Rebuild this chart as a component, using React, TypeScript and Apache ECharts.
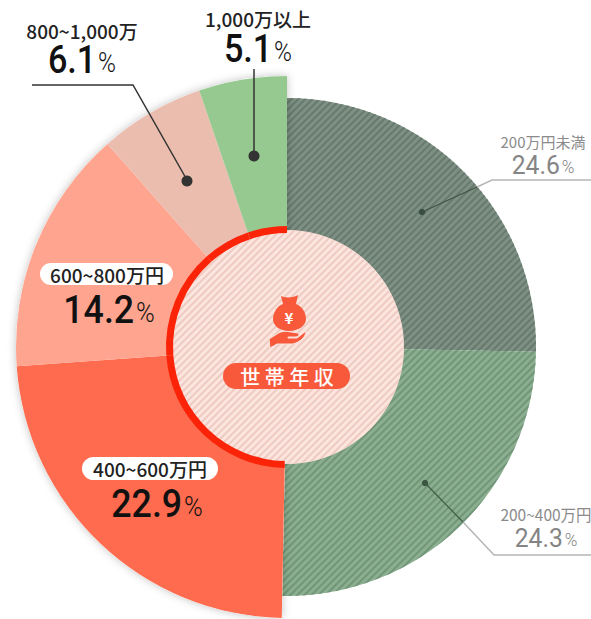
import React, { useEffect, useRef } from "react";
import * as echarts from "echarts";

const categories = ["200万円未満", "200~400万円", "400~600万円", "600~800万円", "800~1,000万", "1,000万以上"];
const values = [24.6, 24.3, 22.9, 14.2, 6.1, 5.1];
const colors = ["#7d9083", "#8aae8f", "#ff6b4e", "#ffa58f", "#ebbdaf", "#96c98f"];
const stripeColors = ["#67796d", "#719577", "", "", "", ""];
const outerRing = [false, false, true, true, true, true];
const centerTitle = "世 帯 年 収";

const CX = 287;
const CY = 347;
const NUM_FONT = "Roboto, 'Noto Sans CJK JP', sans-serif";
const JP_FONT = "'Noto Sans CJK JP', sans-serif";

// label placement: [label centre x, label centre y, value centre x, value centre y]
const labelPlaces = [
  [543, 141, 543, 165],
  [546, 514, 546, 538],
  [150, 468, 157, 504],
  [107, 274, 109, 310],
  [82, 30, 82, 60],
  [258, 18, 258, 49],
];
const pills: Record<number, number[]> = { 2: [82, 457, 136, 23], 3: [40, 263, 133, 22] };
const labelSize = [15, 15.5, 19, 19, 19, 19];
const valueSize = [26, 26, 38, 38, 38, 38];
const unitSize = [18, 18, 27, 27, 27, 27];
const valueScale = [0.95, 0.95, 0.94, 0.94, 0.9, 0.9];

const BAG =
  "M281 296 C284 298 294 298 298 295 L296 304 C303 307 306 313 306 319 C306 326 298 331 289 331 C280 331 273 326 273 319 C273 313 277 306 283 304 Z";
const HAND =
  "M269 339 L277 334 C281 331 286 331 291 332 L298 333 C300 335 298 337 295 337 L288 337 L288 338 L297 338 L306 331 C306 337 300 342 293 344 L277 344 L270 348 Z";

echarts.graphic.registerShape("moneyBag", echarts.graphic.extendPath(BAG, {}));
echarts.graphic.registerShape("moneyHand", echarts.graphic.extendPath(HAND, {}));

const stripe = (color: string) => ({
  symbol: "rect",
  color,
  dashArrayX: [1, 0],
  dashArrayY: [2, 3],
  rotation: -Math.PI / 4,
  symbolSize: 1,
});

const baseSeries = {
  type: "pie",
  center: [CX, CY],
  startAngle: 90,
  clockwise: true,
  silent: true,
  label: { show: false },
  labelLine: { show: false },
  avoidLabelOverlap: false,
};

const invisible = { color: "rgba(0,0,0,0)", borderWidth: 0 };

export default function App() {
  const ref = useRef<HTMLDivElement>(null);

  useEffect(() => {
    const chart = echarts.init(ref.current!, undefined, { renderer: "svg" });
    const ringData = (pick: boolean, style: (i: number) => any) =>
      values.map((value, i) => ({
        name: categories[i],
        value,
        itemStyle: outerRing[i] === pick ? style(i) : invisible,
      }));

    const texts: any[] = [];
    categories.forEach((name, i) => {
      const p = pills[i];
      if (p) {
        texts.push({
          type: "rect",
          z: 20,
          shape: { x: p[0], y: p[1], width: p[2], height: p[3], r: p[3] / 2 },
          style: { fill: "#fff" },
        });
      }
      const [lx, ly, vx, vy] = labelPlaces[i];
      const isGrey = i < 2;
      const ink = isGrey ? "#858585" : "#111";
      texts.push({
        type: "text",
        z: 21,
        x: lx,
        y: ly,
        style: {
          text: name,
          fill: isGrey ? "#8b8b8b" : "#222",
          font: `${isGrey ? 400 : 500} ${labelSize[i]}px ${JP_FONT}`,
          align: "center",
          verticalAlign: "middle",
        },
      });
      texts.push({
        type: "text",
        z: 21,
        x: vx,
        y: vy,
        scaleX: valueScale[i],
        style: {
          text: `{v|${values[i].toFixed(1)}}{u|%}`,
          align: "center",
          verticalAlign: "middle",
          rich: {
            v: {
              fontFamily: NUM_FONT,
              fontSize: valueSize[i],
              fontWeight: isGrey ? 400 : 500,
              fill: ink,
            },
            u: {
              fontFamily: NUM_FONT,
              fontSize: unitSize[i],
              fontWeight: 300,
              fill: ink,
              padding: [isGrey ? 3 : 5, 0, 0, 2],
            },
          },
        },
      });
    });

    const dark = "#333";
    const leaders: any[] = [
      { type: "polyline", shape: { points: [[32, 85], [133, 85], [187, 180]] }, style: { stroke: dark, lineWidth: 1.5, fill: "none" } },
      { type: "line", shape: { x1: 254, y1: 69, x2: 254, y2: 156 }, style: { stroke: dark, lineWidth: 1.5 } },
      { type: "circle", shape: { cx: 187, cy: 181, r: 5.5 }, style: { fill: dark } },
      { type: "circle", shape: { cx: 254, cy: 156, r: 5.5 }, style: { fill: dark } },
      { type: "polyline", shape: { points: [[477, 187], [492, 180], [591, 180]] }, style: { stroke: "#b5b5b5", lineWidth: 1.5, fill: "none" } },
      { type: "line", shape: { x1: 422, y1: 212, x2: 477, y2: 187 }, style: { stroke: "#3f5347", lineWidth: 1.2 } },
      { type: "circle", shape: { cx: 422, cy: 212, r: 3.2 }, style: { fill: "#3a4d41" } },
      { type: "polyline", shape: { points: [[463, 522], [494, 555], [591, 555]] }, style: { stroke: "#b5b5b5", lineWidth: 1.5, fill: "none" } },
      { type: "line", shape: { x1: 425, y1: 483, x2: 463, y2: 522 }, style: { stroke: "#3f5c47", lineWidth: 1.2 } },
      { type: "circle", shape: { cx: 425, cy: 483, r: 3.2 }, style: { fill: "#3a5642" } },
    ].map((g) => ({ ...g, z: 15 }));

    const icon: any[] = [
      { type: "moneyBag", x: 0, y: 0, z: 16, style: { fill: "#f7593a" } },
      { type: "moneyHand", x: 0, y: 0, z: 16, style: { fill: "#f7593a", stroke: "#fbe3dc", lineWidth: 1 } },
      {
        type: "text", z: 17, x: 289, y: 317,
        style: { text: "¥", fill: "#fff", font: `700 15px ${JP_FONT}`, align: "center", verticalAlign: "middle" },
      },
      { type: "rect", z: 16, shape: { x: 223, y: 363, width: 127, height: 26, r: 13 }, style: { fill: "#f7593a" } },
      {
        type: "text", z: 17, x: 287, y: 376,
        style: { text: centerTitle, fill: "#fff", font: `500 20px ${JP_FONT}`, align: "center", verticalAlign: "middle" },
      },
    ];

    chart.setOption({
      animation: false,
      backgroundColor: "#fff",
      series: [
        {
          ...baseSeries,
          z: 1,
          radius: [0, 249],
          data: ringData(false, (i) => ({ color: colors[i], decal: stripe(stripeColors[i]) })),
        },
        {
          ...baseSeries,
          z: 2,
          radius: [0, 271],
          data: ringData(true, () => ({ color: "#fff", shadowBlur: 8, shadowColor: "rgba(0,0,0,0.25)" })),
        },
        {
          ...baseSeries,
          z: 3,
          radius: [0, 271],
          data: ringData(true, (i) => ({ color: colors[i] })),
        },
        {
          ...baseSeries,
          z: 4,
          radius: [0, 117],
          data: [{ name: "center", value: 1, itemStyle: { color: "#fce5de", decal: stripe("#edcbc2") } }],
        },
        {
          ...baseSeries,
          z: 5,
          radius: [114, 121],
          data: ringData(true, () => ({ color: "#fb2409" })),
        },
      ],
      graphic: { elements: [...leaders, ...icon, ...texts] },
    });
    return () => chart.dispose();
  }, []);

  return <div ref={ref} style={{ position: "fixed", left: 0, top: 0, width: 591, height: 619 }} />;
}
